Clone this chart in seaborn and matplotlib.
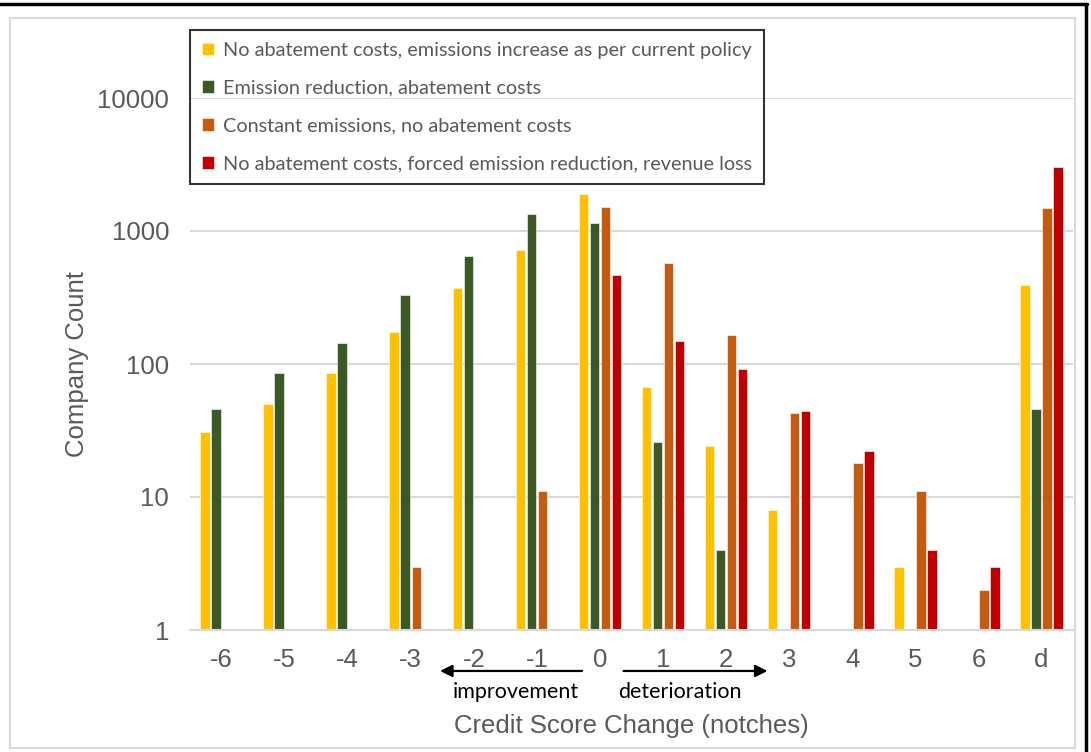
import matplotlib
matplotlib.use("Agg")
import matplotlib.pyplot as plt
import matplotlib.transforms as mtransforms
from matplotlib.lines import Line2D
from matplotlib.patches import Rectangle
import numpy as np
import pandas as pd
import seaborn as sns

categories = ["-6", "-5", "-4", "-3", "-2", "-1", "0", "1", "2", "3", "4", "5", "6", "d"]
series_names = [
    "No abatement costs, emissions increase as per current policy",
    "Emission reduction, abatement costs",
    "Constant emissions, no abatement costs",
    "No abatement costs, forced emission reduction, revenue loss",
]
s_current_policy = [31, 50, 86, 175, 370, 720, 1900, 67, 24, 8, np.nan, 3, np.nan, 395]
s_reduction = [46, 86, 145, 330, 650, 1350, 1150, 26, 4, np.nan, np.nan, np.nan, np.nan, 46]
s_constant = [np.nan, np.nan, np.nan, 3, np.nan, 11, 1520, 575, 166, 43, 18, 11, 2, 1490]
s_forced = [np.nan, np.nan, np.nan, np.nan, np.nan, np.nan, 470, 150, 91, 44, 22, 4, 3, 3050]
colors = ["#FFC000", "#3B5825", "#C55A11", "#C00000"]
yticks = [1, 10, 100, 1000, 10000]

df = pd.DataFrame({
    "change": categories * 4,
    "scenario": sum([[n] * len(categories) for n in series_names], []),
    "count": s_current_policy + s_reduction + s_constant + s_forced,
})

sns.set_theme(style="white")
plt.rcParams["font.family"] = ["Liberation Sans", "DejaVu Sans"]

fig = plt.figure(figsize=(10.91, 7.52), dpi=100)
ax = fig.add_axes([190 / 1091, 1 - 630 / 752, (1073 - 190) / 1091, (630 - 98) / 752])

sns.barplot(data=df, x="change", y="count", hue="scenario", order=categories,
            hue_order=series_names, palette=colors, width=0.70, gap=0.14,
            edgecolor="white", linewidth=0.4, saturation=1, ax=ax, legend=True)
ax.set_yscale("log")
ax.set_ylim(1, 10000)
ax.set_xlim(-0.5, len(categories) - 0.5)
ax.set_yticks(yticks)
ax.set_yticklabels([str(t) for t in yticks])
ax.yaxis.set_minor_locator(matplotlib.ticker.NullLocator())
ax.grid(axis="y", color="#D9D9D9", linewidth=1.5)
ax.set_axisbelow(True)
for s in ["top", "right", "left"]:
    ax.spines[s].set_visible(False)
ax.spines["bottom"].set_color("#D9D9D9")
ax.spines["bottom"].set_linewidth(1.5)
ax.tick_params(axis="both", length=0, labelsize=18.5, labelcolor="#595959")
ax.tick_params(axis="x", pad=13)
ax.tick_params(axis="y", pad=15)
ax.set_xlabel("Credit Score Change (notches)", fontsize=18.5, color="#595959", labelpad=30)
ax.set_ylabel("Company Count", fontsize=18.5, color="#595959", labelpad=6)

# legend
handles, labels = ax.get_legend_handles_labels()
leg = ax.legend(handles, labels, loc="upper left",
                bbox_to_anchor=(190 / 1091, 1 - 30 / 752), bbox_transform=fig.transFigure,
                prop={"family": "Lato", "size": 14.3}, labelcolor="#595959",
                handlelength=0.6, handleheight=0.6, handletextpad=0.45,
                labelspacing=1.05, borderpad=0.6, borderaxespad=0, fancybox=False, frameon=True)
leg.get_frame().set_edgecolor("black")
leg.get_frame().set_linewidth(1.5)
leg.get_frame().set_facecolor("none")

# improvement / deterioration arrows
trans = mtransforms.blended_transform_factory(ax.transData, ax.transAxes)
ax.annotate("", xy=(3.42, -0.077), xytext=(5.76, -0.077), xycoords=trans, textcoords=trans,
            arrowprops=dict(arrowstyle="-|>", color="black", lw=1.6, mutation_scale=18),
            annotation_clip=False)
ax.annotate("", xy=(8.70, -0.077), xytext=(6.33, -0.077), xycoords=trans, textcoords=trans,
            arrowprops=dict(arrowstyle="-|>", color="black", lw=1.6, mutation_scale=18),
            annotation_clip=False)
ax.text(4.66, -0.117, "improvement", transform=trans, ha="center", va="center",
        fontsize=15.5, family="Lato", color="black")
ax.text(7.26, -0.117, "deterioration", transform=trans, ha="center", va="center",
        fontsize=15.5, family="Lato", color="black")

# chart border and frame
fig.patches.append(Rectangle((10 / 1091, 1 - 748 / 752), (1075 - 10) / 1091, (748 - 18) / 752,
                             transform=fig.transFigure, fill=False, edgecolor="#D9D9D9", lw=1.5))
fig.lines.append(Line2D([0, 1087 / 1091], [1 - 3.5 / 752, 1 - 3.5 / 752], transform=fig.transFigure,
                        color="black", lw=2.5))
fig.lines.append(Line2D([1086 / 1091, 1086 / 1091], [0, 1 - 3.5 / 752], transform=fig.transFigure,
                        color="black", lw=2.5))

fig.savefig("out.png", dpi=100)
